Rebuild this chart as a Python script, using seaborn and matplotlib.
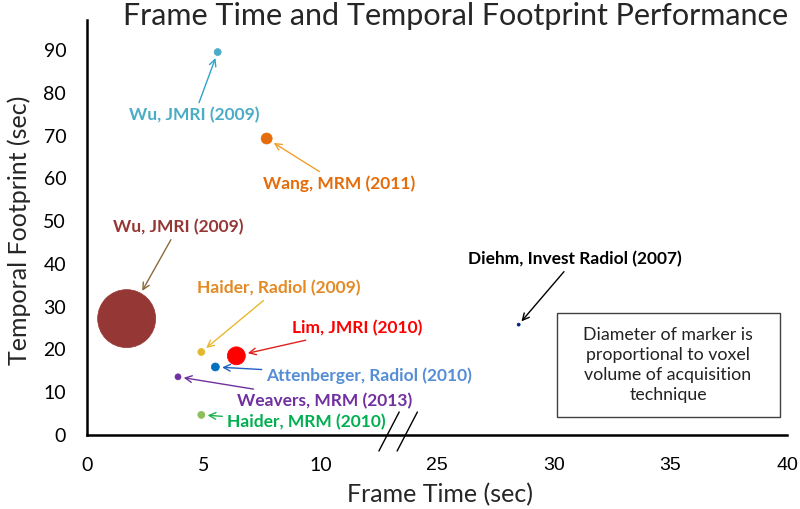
import numpy as np
import pandas as pd
import matplotlib
matplotlib.use('Agg')
import matplotlib.pyplot as plt
import seaborn as sns
from matplotlib.patches import Rectangle

### Data ###
studies = ['Wu, JMRI (2009)', 'Wang, MRM (2011)', 'Wu, JMRI (2009)', 'Haider, Radiol (2009)',
           'Lim, JMRI (2010)', 'Attenberger, Radiol (2010)', 'Weavers, MRM (2013)',
           'Haider, MRM (2010)', 'Diehm, Invest Radiol (2007)']
frame_time = [5.6, 7.7, 1.7, 4.9, 6.4, 5.5, 3.9, 4.9, 28.5]        # sec
footprint = [89.5, 69.3, 27.2, 19.4, 18.5, 15.9, 13.6, 4.7, 25.8]    # sec
marker_diam = [7, 11, 58, 7, 18, 8, 6, 7, 3]                         # relative voxel volume (px)
marker_colors = ['#4BACC6', '#E46C0A', '#953735', '#E3B830', '#FF0000',
                 '#0070C0', '#7030A0', '#8CBE5A', '#002080']
label_colors = ['#4BACC6', '#E46C0A', '#953735', '#E38A25', '#FF0000',
                '#558ED5', '#7030A0', '#00B050', '#000000']
arrow_colors = ['#2FA3C8', '#F0A030', '#8C6A3C', '#E8B830', '#E02020',
                '#2060C0', '#7030A0', '#20B050', '#000000']
x_ticks = [0, 5, 10, 25, 30, 35, 40]

# broken x axis: 15-20 is cut out
GAP = 10
def squash(x):
    x = np.asarray(x, dtype=float)
    return np.where(x > 12.5, x - GAP, x)

df = pd.DataFrame({'study': studies, 'x': squash(frame_time), 'y': footprint,
                   'color': marker_colors,
                   's': (0.72 * np.array(marker_diam)) ** 2})

sns.set_style('white')
plt.rcParams['font.family'] = ['Lato', 'DejaVu Sans']

fig = plt.figure(figsize=(8, 5.09), dpi=100)
ax = fig.add_axes([0.10875, 0.1454, 0.875, 0.8153])

sns.scatterplot(data=df, x='x', y='y', hue='color', palette={c: c for c in marker_colors},
                s=df['s'].values, edgecolor='face', linewidth=0.5, legend=False, ax=ax, zorder=3)

# label positions (display coordinates)
label_pos = [(4.6, 74.7), (10.8, 58.7), (3.9, 48.6), (8.2, 34.3), (11.6, 24.9),
             (12.1, 13.9), (10.2, 8.0), (9.4, 3.0), (20.9, 41.1)]
for i in range(len(df)):
    ax.annotate(studies[i], xy=(df.x[i], df.y[i]), xytext=label_pos[i], textcoords='data',
                ha='center', va='center', color=label_colors[i], fontsize=12.5, fontweight='bold',
                arrowprops=dict(arrowstyle='->', color=arrow_colors[i], lw=1,
                                shrinkA=1, shrinkB=0.36 * marker_diam[i] + 2,
                                mutation_scale=12))

ax.set_xlim(0, 30)
ax.set_ylim(0, 97)
ax.set_xticks(squash(x_ticks))
ax.set_xticklabels([str(t) for t in x_ticks])
ax.set_yticks(range(0, 100, 10))
for lab, t in zip(ax.get_xticklabels(), x_ticks):
    lab.set_fontfamily('Lato' if t <= 10 else 'Liberation Sans')
ax.tick_params(axis='both', direction='out', length=5, width=1.5, labelsize=14,
               colors='black')
ax.tick_params(axis='y', pad=10)
ax.tick_params(axis='x', pad=11, labelsize=14)
ax.set_xlabel('')
ax.set_ylabel('')
for side in ['top', 'right']:
    ax.spines[side].set_visible(False)
for side in ['left', 'bottom']:
    ax.spines[side].set_linewidth(1.8)
    ax.spines[side].set_color('black')

# break marks
for x0 in [0.417, 0.443]:
    ax.plot([x0, x0 + 0.029], [-0.0386, 0.0554], transform=ax.transAxes, color='black',
            lw=1, clip_on=False)

# note box
ax.add_patch(Rectangle((0.671, 0.0434), 0.319, 0.2506, transform=ax.transAxes,
                       facecolor='white', edgecolor='#404040', lw=1, zorder=4))
ax.text(0.83, 0.169, 'Diameter of marker is\nproportional to voxel\nvolume of acquisition\ntechnique',
        transform=ax.transAxes, ha='center', va='center', fontsize=12.8, linespacing=1.32,
        color='#222222', zorder=5)

fig.text(0.57, 0.968, 'Frame Time and Temporal Footprint Performance', ha='center', va='center',
         fontsize=22)
fig.text(0.55, 0.029, 'Frame Time (sec)', ha='center', va='center', fontsize=18)
fig.text(0.024, 0.548, 'Temporal Footprint (sec)', ha='center', va='center', fontsize=18,
         rotation=90)

plt.savefig('out.png', dpi=100)
plt.close()
